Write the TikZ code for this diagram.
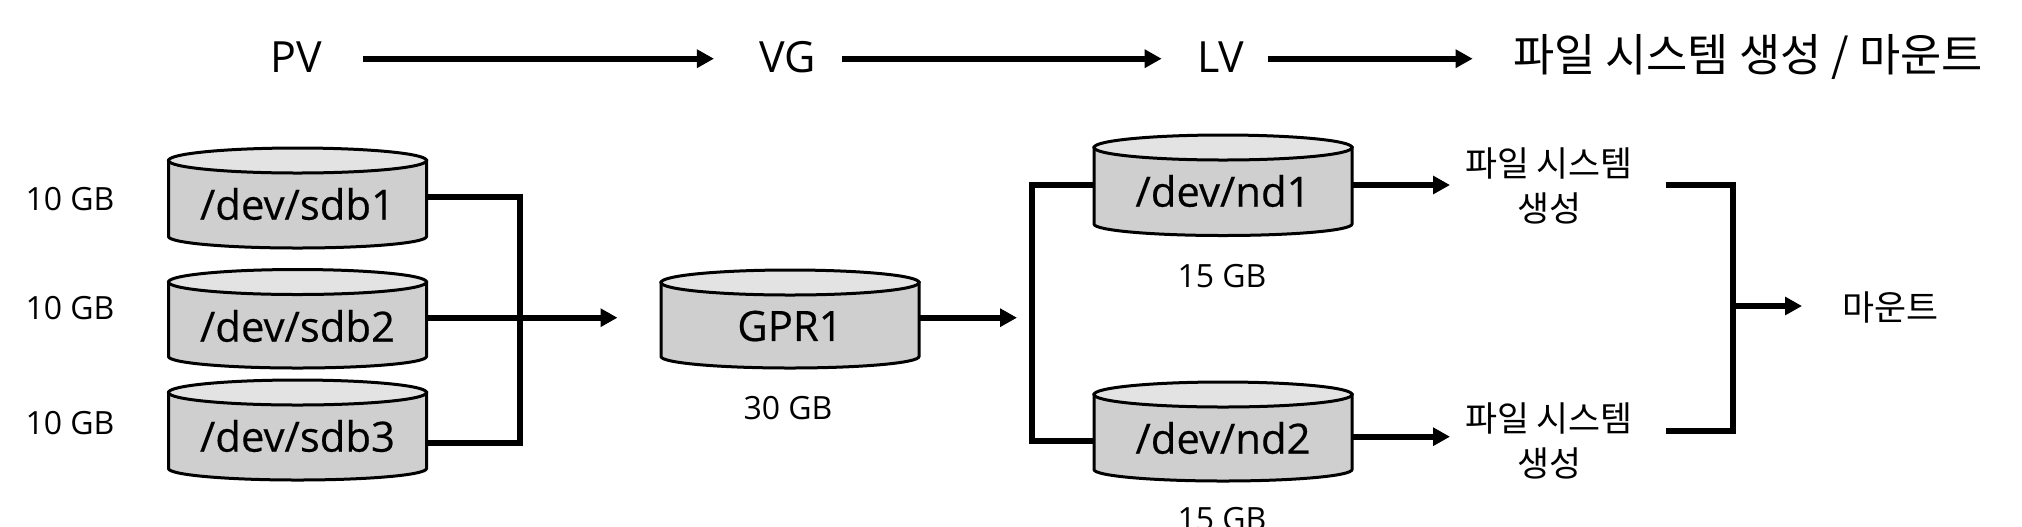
\documentclass[tikz,border=0pt]{standalone}
\usepackage{fontspec}
\setmainfont[BoldFont={Open Sans},BoldFeatures={FakeBold=0.35}]{Open Sans}
\newfontfamily\krfont{Noto Sans CJK KR}
\usetikzlibrary{arrows.meta,calc}
\definecolor{bodygrey}{HTML}{CFCFCF}
\definecolor{topgrey}{HTML}{E3E3E3}
\tikzset{
  wire/.style={line width=3pt,line cap=butt,miter limit=10},
  arrowwire/.style={wire,-{Triangle[length=8.5pt,width=8.8pt]}},
  diskline/.style={line width=1.5pt,draw=black},
  diskbox/.style={inner sep=0pt,outer sep=0pt,minimum width=129pt,align=center},
  disktext/.style={inner sep=0pt,font=\fontsize{20.9}{26}\selectfont\bfseries},
  sizetext/.style={inner sep=0pt,font=\fontsize{16}{18}\selectfont},
  headtext/.style={inner sep=0pt,font=\fontsize{21.5}{24}\selectfont},
  kortext/.style={inner sep=0pt,align=center,font=\fontsize{17.4}{22.5}\selectfont\krfont},
  titletext/.style={inner sep=0pt,font=\fontsize{22.4}{26}\selectfont\krfont}
}
% name, left x, top y, bottom y, text y, text
\newcommand{\diskdraw}[6]{%
  \path[fill=bodygrey,diskline] (#2+1,#3+12.5) -- (#2+1,#4-11.5)
     arc[start angle=180,end angle=360,x radius=64.5pt,y radius=5.75pt]
     -- (#2+259,#3+12.5) -- cycle;
  \path[fill=topgrey,diskline] (#2+130,#3+12.5) ellipse[x radius=64.5pt,y radius=6.25pt];
  \node[diskbox,minimum height={(#4-#3)*0.5pt}] (#1) at (#2+130,{(#3+#4)/2}) {};
  \node[disktext] (#1t) at (#2+130,#5) {#6};
}
\begin{document}
\begin{tikzpicture}[x=0.5pt,y=-0.5pt]
\clip (0,0) rectangle (2022,526);
\fill[white] (0,0) rectangle (2022,526);
% heading
\coordinate (headline) at (0,58.7);
\node[headtext] (pv) at (296,57) {PV};
\node[headtext] (vg) at (788,57) {VG};
\node[headtext] (lv) at (1221,57) {LV};
\node[titletext] (fin) at (1748,57) {파일 시스템 생성 / 마운트};
\draw[arrowwire,shorten <=20.5pt,shorten >=22.7pt] (pv.east |- headline) -- (vg.west |- headline);
\draw[arrowwire,shorten <=12.6pt,shorten >=17.7pt] (vg.east |- headline) -- (lv.west |- headline);
\draw[arrowwire,shorten <=11.4pt,shorten >=20pt] (lv.east |- headline) -- (fin.west |- headline);
% disks
\diskdraw{sa}{167.5}{148}{248}{204}{/dev/sdb1}
\diskdraw{sb}{167.5}{269.5}{368}{326}{/dev/sdb2}
\diskdraw{sc}{167.5}{380}{480}{436}{/dev/sdb3}
\diskdraw{gp}{660}{270}{368}{326}{GPR1}
\diskdraw{na}{1093}{135}{235.5}{191}{/dev/nd1}
\diskdraw{nb}{1093}{382}{481}{438}{/dev/nd2}
% sizes
\node[sizetext] (za) at (70,199) {10 GB};
\node[sizetext] (zb) at (70,308) {10 GB};
\node[sizetext] (zc) at (70,423) {10 GB};
\node[sizetext] (zg) at (788,408) {30 GB};
\node[sizetext] (zn) at (1222,276) {15 GB};
\node[sizetext] (zm) at (1222,519) {15 GB};
% file-system labels
\node[kortext] (fa) at (1549,186) {파일 시스템\\생성};
\node[kortext] (fb) at (1549,440.5) {파일 시스템\\생성};
\node[kortext] (mt) at (1890,307) {마운트};
% helper points
\coordinate (sbus) at (520,317.7);
\coordinate (sa out) at (427,197);
\coordinate (sb out) at (427,317.7);
\coordinate (sc out) at (427,442.7);
\coordinate (sgate) at (617.5,317.7);
\coordinate (gp out) at (919,317.7);
\coordinate (gtip) at (1017,317.7);
\coordinate (nbus) at (1032,317.7);
\coordinate (na in) at (1094,185);
\coordinate (nb in) at (1094,440.7);
\coordinate (na out) at (1352,185);
\coordinate (nb out) at (1352,436.7);
\coordinate (na tip) at (1450,185);
\coordinate (nb tip) at (1450,436.7);
\coordinate (fa out) at (1666,185);
\coordinate (fb out) at (1666,430.7);
\coordinate (fbus) at (1733,306);
\coordinate (mt tip) at (1802,306);
% connectors
\draw[wire] (sa out) -| (sbus) |- (sc out);
\draw[arrowwire] (sb out) -- (sgate);
\draw[arrowwire] (gp out) -- (gtip);
\draw[wire] (na in) -| (nbus) |- (nb in);
\draw[arrowwire] (na out) -- (na tip);
\draw[arrowwire] (nb out) -- (nb tip);
\draw[wire] (fa out) -| (fbus) |- (fb out);
\draw[arrowwire] (fbus) -- (mt tip);
\end{tikzpicture}
\end{document}
